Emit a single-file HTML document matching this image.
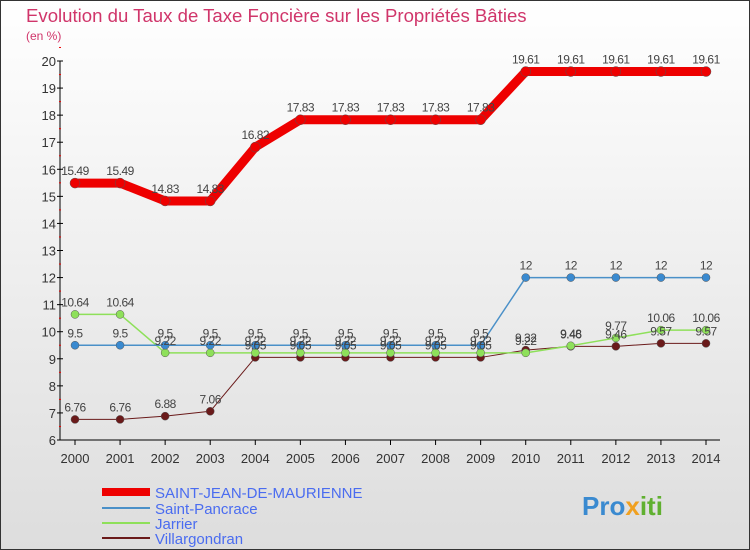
<!DOCTYPE html>
<html><head><meta charset="utf-8"><style>
body{margin:0;width:750px;height:550px;overflow:hidden;font-family:"Liberation Sans",sans-serif}
svg{display:block}
</style></head><body>
<svg id="c" width="750" height="550" xmlns="http://www.w3.org/2000/svg">
<defs><linearGradient id="bg" x1="0" y1="0" x2="0" y2="1"><stop offset="0" stop-color="#ffffff"/><stop offset="1" stop-color="#dddddd"/></linearGradient></defs>
<rect x="0.5" y="0.5" width="749" height="549" fill="url(#bg)" stroke="#333"/>
<text x="26" y="22" font-size="18.6" fill="#d0356a">Evolution du Taux de Taxe Foncière sur les Propriétés Bâties</text>
<text x="26" y="40" font-size="12" fill="#d0356a">(en %)</text>
<g id="axes"></g><g id="series"></g><g id="labels"></g>
<g>
<line x1="102" y1="492" x2="150" y2="492" stroke="#e00" stroke-width="8"/>
<text x="155" y="498" font-size="15" fill="#4a6cf0">SAINT-JEAN-DE-MAURIENNE</text>
<line x1="102" y1="508" x2="150" y2="508" stroke="#4a90c8" stroke-width="2"/>
<text x="155" y="514" font-size="15" fill="#4a6cf0">Saint-Pancrace</text>
<line x1="102" y1="523" x2="150" y2="523" stroke="#8ee05a" stroke-width="2"/>
<text x="155" y="529" font-size="15" fill="#4a6cf0">Jarrier</text>
<line x1="102" y1="538" x2="150" y2="538" stroke="#6a1a1a" stroke-width="2"/>
<text x="155" y="544" font-size="15" fill="#4a6cf0">Villargondran</text>
</g>
<text x="582" y="515" font-size="26" font-weight="bold" fill="#3a8ad0">Pro<tspan fill="#f0a020">x</tspan><tspan fill="#60b030">iti</tspan></text>
</svg>
<script>
const years=[2000,2001,2002,2003,2004,2005,2006,2007,2008,2009,2010,2011,2012,2013,2014];
const stJean=[15.49,15.49,14.83,14.83,16.82,17.83,17.83,17.83,17.83,17.83,19.61,19.61,19.61,19.61,19.61];
const stPancrace=[9.5,9.5,9.5,9.5,9.5,9.5,9.5,9.5,9.5,9.5,12,12,12,12,12];
const jarrier=[10.64,10.64,9.22,9.22,9.22,9.22,9.22,9.22,9.22,9.22,9.22,9.48,9.77,10.06,10.06];
const villargondran=[6.76,6.76,6.88,7.06,9.05,9.05,9.05,9.05,9.05,9.05,9.32,9.46,9.46,9.57,9.57];
const yTicks=[6,7,8,9,10,11,12,13,14,15,16,17,18,19,20];
const NS="http://www.w3.org/2000/svg";
const X=i=>75+i*(706-75)/(years.length-1);
const Y=v=>440-(v-6)*(440-61)/14;
function mk(t,a,p){const e=document.createElementNS(NS,t);for(const k in a)e.setAttribute(k,a[k]);document.getElementById(p).appendChild(e);return e;}
let ax=mk('line',{x1:60,y1:Y(20),x2:60,y2:Y(6),stroke:'#000'},'axes');


let xa=mk('line',{x1:60,y1:440,x2:720,y2:440,stroke:'#000'},'axes');


yTicks.forEach(v=>{
 mk('line',{x1:57,y1:Y(v),x2:63,y2:Y(v),stroke:'#000'},'axes');
 mk('line',{x1:59,y1:Y(v+0.5),x2:61,y2:Y(v+0.5),stroke:'#e00'},'axes');
 const t=mk('text',{x:56,y:Y(v)+5,'font-size':13,'text-anchor':'end',fill:'#333'},'axes');t.textContent=v;
 
 
});
years.forEach((y,i)=>{
 mk('line',{x1:X(i),y1:440,x2:X(i),y2:445,stroke:'#000'},'axes');
 const t=mk('text',{x:X(i),y:463,'font-size':13,'text-anchor':'middle',fill:'#333'},'axes');t.textContent=y;
 
 
});
function series(d,col,w,r,name,dot){
 const p=mk('polyline',{points:d.map((v,i)=>X(i)+','+Y(v)).join(' '),fill:'none',stroke:col,'stroke-width':w,'stroke-linejoin':'round'},'series');
 
 
 d.forEach((v,i)=>{
  const c=mk('circle',{cx:X(i),cy:Y(v),r:r,fill:dot,stroke:'#555','stroke-width':0.5},'series');
  
  
  const t=mk('text',{x:X(i),y:Y(v)-8,'font-size':12,'text-anchor':'middle',fill:'#444','letter-spacing':'-0.5'},'labels');
  t.textContent=v;
  
  
 });
}
series(villargondran,'#6a1a1a',1,4,'villargondran','#6a1a1a');
series(jarrier,'#8ee05a',1.5,4,'jarrier','#8ee05a');
series(stPancrace,'#4a90c8',1.5,4,'saint-pancrace','#3a8ad0');
series(stJean,'#e00',9,5,'saint-jean','#e00');
</script>
</body></html>
